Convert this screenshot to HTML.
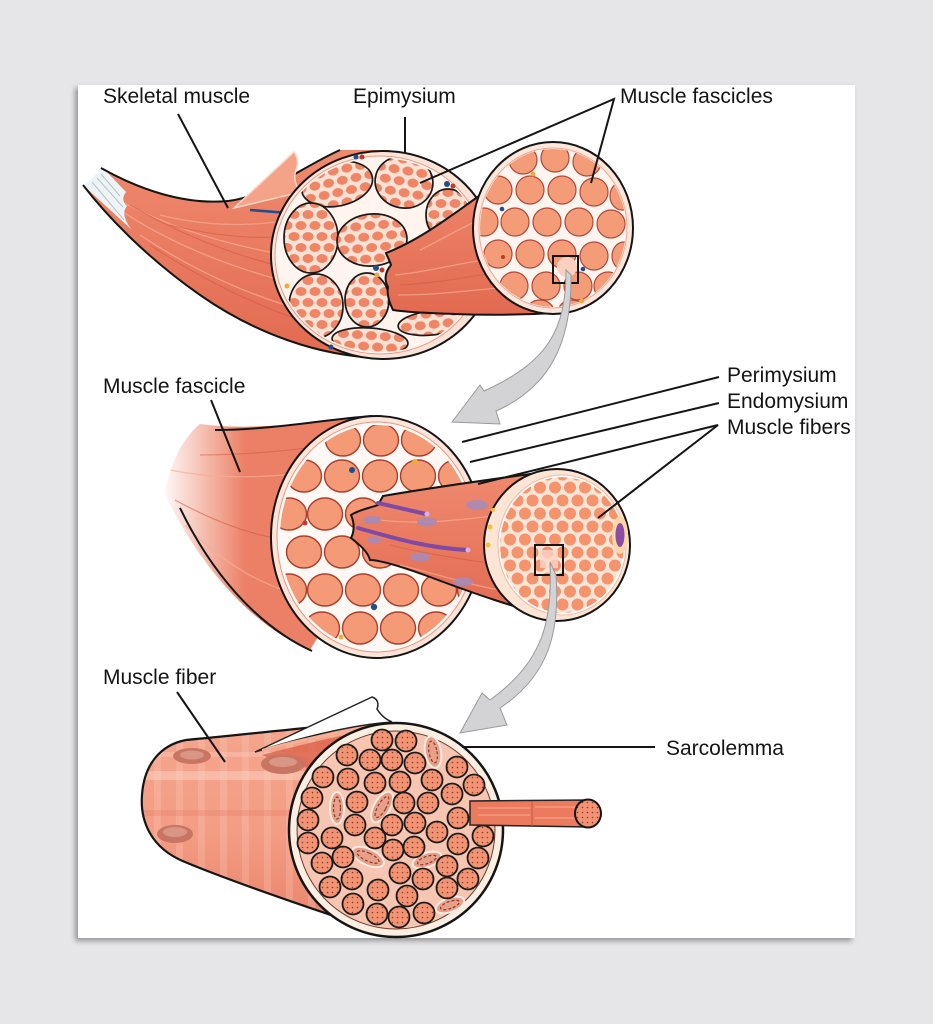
<!DOCTYPE html>
<html><head><meta charset="utf-8"><style>
html,body{margin:0;padding:0;width:933px;height:1024px;background:#e6e6e8;overflow:hidden}
.panel{position:absolute;left:78px;top:85px;width:777px;height:853px;background:#fff;box-shadow:-3px 3px 5px rgba(0,0,0,.35)}
svg{position:absolute;left:0;top:0}
text{font-family:"Liberation Sans",Arial,sans-serif;font-size:21px;fill:#141414}
.ln{stroke:#151515;stroke-width:2;fill:none}
.fb{fill:#f49c78;stroke:#b04838;stroke-width:1.2}
.ff{fill:#f49a76;stroke:#a8402f;stroke-width:1.4}
.mf{fill:url(#mdots);stroke:#1c1c1c;stroke-width:1.8}
.bl{fill:url(#ovals);stroke:#1a1a1a;stroke-width:1.7}
.mi{fill:#e8a08a;stroke:#fdebe2;stroke-width:2}
.mi2{fill:none;stroke:#8d3b2c;stroke-width:1.2;stroke-dasharray:3 2}
.st{fill:none;stroke:#f7ad96;stroke-width:1.3;opacity:.7}
.sd{fill:none;stroke:#d25a42;stroke-width:1.1;opacity:.6}
</style></head><body>
<div class="panel"></div>
<svg width="933" height="1024" viewBox="0 0 933 1024">
<defs>
 <pattern id="ovals" width="14" height="22" patternUnits="userSpaceOnUse">
  <rect width="14" height="22" fill="#fbe2d5"/>
  <ellipse cx="7" cy="5.5" rx="5.5" ry="4.5" fill="#f08566"/>
  <ellipse cx="0" cy="16.5" rx="5.5" ry="4.5" fill="#f08566"/>
  <ellipse cx="14" cy="16.5" rx="5.5" ry="4.5" fill="#f08566"/>
 </pattern>
 <pattern id="bdots" width="15" height="26" patternUnits="userSpaceOnUse">
  <rect width="15" height="26" fill="#fde6d8"/>
  <circle cx="7.5" cy="6.5" r="6" fill="#f5936d"/>
  <circle cx="0" cy="19.5" r="6" fill="#f5936d"/>
  <circle cx="15" cy="19.5" r="6" fill="#f5936d"/>
 </pattern>
 <pattern id="mdots" width="5" height="5" patternUnits="userSpaceOnUse">
  <rect width="5" height="5" fill="#f29373"/>
  <circle cx="2.5" cy="2.5" r="0.8" fill="#8b3a2c"/>
 </pattern>
 <pattern id="vstripe" width="22" height="10" patternUnits="userSpaceOnUse">
  <rect width="22" height="10" fill="none"/>
  <rect x="0" width="7" height="10" fill="#ffd6c8" opacity=".22"/>
 </pattern>
 <linearGradient id="mus" x1="0" y1="0" x2="0" y2="1">
  <stop offset="0" stop-color="#ef8a6f"/><stop offset="1" stop-color="#e26a50"/>
 </linearGradient>
 <linearGradient id="fade" gradientUnits="userSpaceOnUse" x1="160" y1="0" x2="245" y2="0">
  <stop offset="0" stop-color="#ec8066" stop-opacity="0"/><stop offset="1" stop-color="#ec8066" stop-opacity="1"/>
 </linearGradient>
 <linearGradient id="fib" x1="0" y1="0" x2="0" y2="1">
  <stop offset="0" stop-color="#f4a58d"/><stop offset=".5" stop-color="#f39d84"/><stop offset="1" stop-color="#e88067"/>
 </linearGradient>
 <clipPath id="cTopX"><ellipse cx="380" cy="255" rx="103" ry="97"/></clipPath>
 <clipPath id="cTopF"><ellipse cx="553" cy="228" rx="73" ry="79"/></clipPath>
 <clipPath id="cMid"><ellipse cx="377" cy="537" rx="97" ry="112"/></clipPath>
 <clipPath id="cBun"><ellipse cx="562" cy="545" rx="62" ry="68"/></clipPath>
 <clipPath id="cTopBody"><path d="M103,170 C140,190 185,205 228,201 C265,197 300,168 340,150 L390,150 L395,358 C330,362 250,330 200,295 C150,260 110,220 84,186 Z"/></clipPath>
 <clipPath id="cMidBody"><path d="M200,424 C260,432 320,420 372,416 L380,537 L310,650 C250,625 200,565 165,495 C168,470 180,440 200,424 Z"/></clipPath>
 <clipPath id="cBot"><path d="M186,740 C240,735 300,728 370,724 L400,830 L397,937 C330,915 240,885 185,862 C150,848 140,820 142,795 C144,765 160,745 186,740 Z"/></clipPath>
</defs>

<!-- ============ TOP: skeletal muscle ============ -->
<path d="M103,170 C140,190 185,205 228,201 C265,197 300,168 340,150 L390,150 L395,358 C330,362 250,330 200,295 C150,260 110,220 84,186 Z" fill="url(#mus)"/>
<g clip-path="url(#cTopBody)">
 <path class="st" d="M110,195 C170,230 240,250 330,262"/>
 <path class="st" d="M120,210 C180,250 250,275 330,292"/>
 <path class="st" d="M140,235 C200,275 260,300 330,318"/>
 <path class="sd" d="M130,205 C190,240 250,262 330,278"/>
 <path class="sd" d="M150,245 C210,285 270,312 330,330"/>
 <path class="st" d="M160,215 C220,230 270,225 320,215"/>
 <path class="sd" d="M170,225 C230,240 280,240 320,232"/>
</g>
<!-- tendon -->
<path d="M103,168 L126,192 Q120,200 127,206 Q120,214 131,229 L84,186 Z" fill="#eef3f6"/>
<path d="M92,182 L124,220 M97,178 L123,207 M101,174 L120,196" stroke="#b8c4cc" stroke-width="1" fill="none"/>
<path class="ln" d="M101,168 C140,190 185,205 228,201 C265,197 300,168 340,150"/>
<path class="ln" d="M83,185 C110,220 150,260 200,295 C250,330 320,360 395,358"/>
<!-- flap -->
<path d="M234,208 L294,152 Q300,160 296,170 Q292,182 301,192 Z" fill="#f4a389" stroke="#fbd8cb" stroke-width="1.5"/>
<path d="M250,210 L301,214" stroke="#1f4e8c" stroke-width="2.5"/>
<rect x="286" y="208" width="9" height="6" fill="#f2c23a"/><circle cx="298" cy="209" r="3.5" fill="#1f4e8c"/>

<!-- big cross-section -->
<ellipse cx="383" cy="255" rx="112" ry="104" fill="#fbe3d8" stroke="#151515" stroke-width="2"/>
<ellipse cx="380" cy="255" rx="105" ry="99" fill="#fff4ee" stroke="#e89a86" stroke-width="1"/>
<g clip-path="url(#cTopX)">
 <ellipse class="bl" cx="337" cy="184" rx="36" ry="22" transform="rotate(-12 337 184)"/>
 <ellipse class="bl" cx="404" cy="182" rx="29" ry="26" transform="rotate(10 404 182)"/>
 <ellipse class="bl" cx="448" cy="215" rx="22" ry="26"/>
 <ellipse class="bl" cx="311" cy="238" rx="27" ry="35"/>
 <ellipse class="bl" cx="372" cy="240" rx="35" ry="26" transform="rotate(-5 372 240)"/>
 <ellipse class="bl" cx="316" cy="306" rx="27" ry="32"/>
 <ellipse class="bl" cx="367" cy="300" rx="22" ry="27"/>
 <ellipse class="bl" cx="370" cy="341" rx="38" ry="13" transform="rotate(4 370 341)"/>
 <ellipse class="bl" cx="432" cy="323" rx="34" ry="12" transform="rotate(-6 432 323)"/>
 <ellipse class="bl" cx="470" cy="300" rx="14" ry="15"/>
</g>
<circle cx="356" cy="157" r="2.5" fill="#1f4e8c"/><circle cx="362" cy="157" r="2.5" fill="#c0392b"/>
<circle cx="447" cy="184" r="3" fill="#1f4e8c"/><circle cx="453" cy="186" r="2.5" fill="#c0392b"/>
<circle cx="376" cy="268" r="3" fill="#1f4e8c"/><circle cx="382" cy="270" r="2.5" fill="#c0392b"/><circle cx="377" cy="275" r="2.5" fill="#f2a93a"/>
<circle cx="287" cy="286" r="2.5" fill="#f2a93a"/><circle cx="331" cy="347" r="2.5" fill="#1f4e8c"/>

<!-- fascicle body -->
<path d="M386,253 C420,240 452,215 479,196 L556,160 L556,313 C520,315 480,315 455,314 C425,313 405,312 393,310 C388,300 387,292 388,287 C384,280 385,272 391,265 C389,259 387,256 386,253 Z" fill="url(#mus)" stroke="#151515" stroke-width="2"/>
<path class="st" d="M395,275 C430,272 460,262 500,258"/>
<path class="st" d="M398,295 C440,295 470,290 500,288"/>
<path class="sd" d="M400,285 C440,283 470,276 500,272"/>
<path class="st" d="M420,250 C445,238 465,225 490,215"/>

<!-- fascicle cross-section -->
<ellipse cx="553" cy="228" rx="80" ry="86" fill="#fde6dc" stroke="#151515" stroke-width="2"/>
<ellipse cx="553" cy="228" rx="74" ry="80" fill="#fff5f0" stroke="#eaa893" stroke-width="1"/>
<g clip-path="url(#cTopF)">
 <ellipse class="fb" cx="523" cy="160" rx="14" ry="14"/><ellipse class="fb" cx="555" cy="158" rx="14" ry="14"/><ellipse class="fb" cx="587" cy="162" rx="14" ry="14"/>
 <ellipse class="fb" cx="498" cy="190" rx="14" ry="14"/><ellipse class="fb" cx="530" cy="190" rx="14" ry="14"/><ellipse class="fb" cx="562" cy="190" rx="14" ry="14"/><ellipse class="fb" cx="594" cy="192" rx="14" ry="14"/><ellipse class="fb" cx="622" cy="196" rx="12" ry="14"/>
 <ellipse class="fb" cx="484" cy="222" rx="14" ry="14"/><ellipse class="fb" cx="515" cy="222" rx="14" ry="14"/><ellipse class="fb" cx="547" cy="222" rx="14" ry="14"/><ellipse class="fb" cx="579" cy="222" rx="14" ry="14"/><ellipse class="fb" cx="611" cy="224" rx="14" ry="14"/>
 <ellipse class="fb" cx="498" cy="254" rx="14" ry="14"/><ellipse class="fb" cx="530" cy="254" rx="14" ry="14"/><ellipse class="fb" cx="562" cy="254" rx="14" ry="14"/><ellipse class="fb" cx="594" cy="256" rx="14" ry="14"/><ellipse class="fb" cx="624" cy="256" rx="12" ry="14"/>
 <ellipse class="fb" cx="514" cy="286" rx="14" ry="14"/><ellipse class="fb" cx="546" cy="286" rx="14" ry="14"/><ellipse class="fb" cx="578" cy="286" rx="14" ry="14"/><ellipse class="fb" cx="608" cy="286" rx="14" ry="14"/>
 <ellipse class="fb" cx="540" cy="312" rx="14" ry="12"/><ellipse class="fb" cx="572" cy="312" rx="14" ry="12"/>
</g>
<circle cx="533" cy="174" r="2.5" fill="#f2a93a"/><circle cx="502" cy="209" r="2.3" fill="#1f4e8c"/><circle cx="503" cy="257" r="2" fill="#c0392b"/><circle cx="583" cy="269" r="2.3" fill="#1f4e8c"/><circle cx="582" cy="301" r="2.3" fill="#f2a93a"/>
<circle cx="567" cy="267" r="10" fill="#fbd0c0"/>
<rect x="553" y="256" width="25" height="27" fill="none" stroke="#151515" stroke-width="2"/>

<!-- top arrow -->
<path d="M566,270 C566,330 548,362 484,391 L480,385 L452,422 L500,424 L496,411 C548,388 572,345 571,275 Z" fill="#d3d3d5" stroke="#9a9a9c" stroke-width="1"/>

<!-- ============ MIDDLE: fascicle ============ -->
<path d="M200,424 C260,432 320,420 372,416 L380,537 L310,650 C250,625 200,565 165,495 C168,470 180,440 200,424 Z" fill="url(#fade)"/>
<g clip-path="url(#cMidBody)">
 <path class="st" d="M170,470 C220,480 270,478 330,470"/>
 <path class="sd" d="M175,500 C230,530 270,540 320,545"/>
 <path class="st" d="M185,525 C230,570 270,590 320,600"/>
 <path class="sd" d="M200,455 C240,455 280,452 330,445"/>
</g>
<path class="ln" d="M215,430 C270,430 320,420 372,416"/>
<path class="ln" d="M180,508 C210,570 255,625 312,651"/>

<ellipse cx="377" cy="537" rx="106" ry="121" fill="#fce4d8" stroke="#151515" stroke-width="2"/>
<ellipse cx="377" cy="537" rx="100" ry="115" fill="#fff8f4" stroke="#e39a85" stroke-width="1"/>
<g clip-path="url(#cMid)">
 <ellipse class="ff" cx="343" cy="440" rx="17.5" ry="16"/><ellipse class="ff" cx="381" cy="440" rx="17.5" ry="16"/><ellipse class="ff" cx="419" cy="440" rx="17.5" ry="16"/>
 <ellipse class="ff" cx="304" cy="476" rx="17.5" ry="16"/><ellipse class="ff" cx="342" cy="476" rx="17.5" ry="16"/><ellipse class="ff" cx="380" cy="476" rx="17.5" ry="16"/><ellipse class="ff" cx="418" cy="476" rx="17.5" ry="16"/><ellipse class="ff" cx="456" cy="476" rx="17.5" ry="16"/>
 <ellipse class="ff" cx="289" cy="514" rx="17.5" ry="16"/><ellipse class="ff" cx="325" cy="514" rx="17.5" ry="16"/><ellipse class="ff" cx="363" cy="514" rx="17.5" ry="16"/><ellipse class="ff" cx="401" cy="514" rx="17.5" ry="16"/><ellipse class="ff" cx="439" cy="514" rx="17.5" ry="16"/><ellipse class="ff" cx="475" cy="514" rx="17.5" ry="16"/>
 <ellipse class="ff" cx="304" cy="552" rx="17.5" ry="16"/><ellipse class="ff" cx="342" cy="552" rx="17.5" ry="16"/><ellipse class="ff" cx="380" cy="552" rx="17.5" ry="16"/><ellipse class="ff" cx="418" cy="552" rx="17.5" ry="16"/><ellipse class="ff" cx="456" cy="552" rx="17.5" ry="16"/>
 <ellipse class="ff" cx="289" cy="590" rx="17.5" ry="16"/><ellipse class="ff" cx="325" cy="590" rx="17.5" ry="16"/><ellipse class="ff" cx="363" cy="590" rx="17.5" ry="16"/><ellipse class="ff" cx="401" cy="590" rx="17.5" ry="16"/><ellipse class="ff" cx="439" cy="590" rx="17.5" ry="16"/><ellipse class="ff" cx="475" cy="590" rx="17.5" ry="16"/>
 <ellipse class="ff" cx="322" cy="628" rx="17.5" ry="16"/><ellipse class="ff" cx="360" cy="628" rx="17.5" ry="16"/><ellipse class="ff" cx="398" cy="628" rx="17.5" ry="16"/><ellipse class="ff" cx="436" cy="628" rx="17.5" ry="16"/>
</g>
<circle cx="352" cy="470" r="3" fill="#1f4e8c"/><circle cx="415" cy="462" r="3" fill="#f2a93a"/><circle cx="305" cy="523" r="2.5" fill="#c0392b"/><circle cx="374" cy="607" r="3.2" fill="#1f4e8c"/><circle cx="341" cy="637" r="2.5" fill="#f2a93a"/>

<!-- fiber bundle body -->
<path d="M383,496 C430,488 500,478 560,470 L560,618 C520,610 470,592 430,577 C400,566 380,560 370,560 C368,552 360,545 351,538 C355,530 354,522 351,515 C358,510 370,508 378,505 Z" fill="url(#mus)" stroke="#151515" stroke-width="2"/>
<path class="st" d="M380,520 C420,525 460,520 500,515"/>
<path class="sd" d="M390,545 C430,555 470,560 500,565"/>
<path class="st" d="M400,565 C440,575 470,585 500,590"/>
<line x1="378" y1="503" x2="426" y2="514" stroke="#7e4aa6" stroke-width="4" stroke-linecap="round"/>
<circle cx="427" cy="514" r="2.5" fill="#d6b2e6"/>
<path d="M358,528 C400,540 430,548 467,550" stroke="#7e4aa6" stroke-width="4" fill="none" stroke-linecap="round"/>
<circle cx="468" cy="550" r="2.5" fill="#d6b2e6"/>
<g fill="#a48bbd" opacity=".85">
 <ellipse cx="477" cy="505" rx="11" ry="5"/><ellipse cx="427" cy="522" rx="10" ry="4.5"/><ellipse cx="372" cy="520" rx="9" ry="4"/><ellipse cx="420" cy="557" rx="10" ry="4.5"/><ellipse cx="463" cy="582" rx="10" ry="4.5"/><ellipse cx="374" cy="540" rx="7" ry="3.5"/>
</g>

<!-- bundle cross-section -->
<ellipse cx="557" cy="545" rx="73" ry="76" fill="#fde5d5" stroke="#151515" stroke-width="2"/>
<ellipse cx="562" cy="545" rx="64" ry="70" fill="#fff" stroke="#f0b9a4" stroke-width="1"/>
<ellipse cx="562" cy="545" rx="62" ry="68" fill="url(#bdots)" clip-path="url(#cBun)"/>
<ellipse cx="620" cy="535" rx="8" ry="19" fill="#fbd7a8"/>
<ellipse cx="620" cy="535" rx="4.5" ry="12" fill="#8b4ea6"/>
<circle cx="490" cy="527" r="2.5" fill="#f2c23a"/><circle cx="488" cy="545" r="2.5" fill="#f2c23a"/><circle cx="493" cy="510" r="2" fill="#f2c23a"/>
<rect x="540" y="550" width="18" height="18" fill="#fbd6c6" opacity=".8"/>
<rect x="535" y="545" width="28" height="30" fill="none" stroke="#151515" stroke-width="2"/>

<!-- bottom arrow -->
<path d="M550,562 C552,620 545,660 490,700 L482,693 L460,733 L507,725 L500,708 C550,675 560,630 556,575 Z" fill="#d3d3d5" stroke="#9a9a9c" stroke-width="1"/>

<!-- ============ BOTTOM: muscle fiber ============ -->
<path d="M186,740 C240,735 300,728 370,724 L400,830 L397,937 C330,915 240,885 185,862 C150,848 140,820 142,795 C144,765 160,745 186,740 Z" fill="url(#fib)"/>
<g clip-path="url(#cBot)">
 <rect x="130" y="700" width="280" height="250" fill="url(#vstripe)"/>
 <rect x="130" y="771" width="280" height="9" fill="#fcd0c0" opacity=".55"/>
 <rect x="130" y="752" width="280" height="5" fill="#fcd0c0" opacity=".35"/>
 <rect x="130" y="810" width="280" height="6" fill="#e77f66" opacity=".3"/>
 <path d="M262,755 C300,745 350,733 392,726 L340,770 C310,770 280,764 262,755 Z" fill="#dc6149" opacity=".8"/>
</g>
<path d="M186,740 C240,735 300,728 370,722 M397,937 C330,915 240,885 185,862 C150,848 140,820 142,795 C144,765 160,745 186,740" fill="none" stroke="#151515" stroke-width="2.2"/>
<ellipse cx="192" cy="756" rx="19" ry="8" fill="#c97563"/><ellipse cx="192" cy="755" rx="12" ry="4.5" fill="#da9684"/>
<ellipse cx="283" cy="764" rx="22" ry="10" fill="#c97563"/><ellipse cx="283" cy="762" rx="14" ry="5" fill="#da9684"/>
<ellipse cx="175" cy="834" rx="18" ry="9" fill="#c97563"/><ellipse cx="175" cy="832" rx="12" ry="5" fill="#da9684"/>
<!-- flap -->
<path d="M255,752 L372,697 C378,699 379,704 377,709 C380,714 385,719 392,722 C350,725 300,738 255,752 Z" fill="#fff" stroke="#222" stroke-width="1.5"/>
<path d="M262,749 C300,738 350,728 390,724 L386,729 C340,733 300,742 262,751 Z" fill="#f5b094"/>

<!-- cross-section -->
<circle cx="396" cy="830" r="107" fill="#fcefe2" stroke="#151515" stroke-width="2.5"/>
<circle cx="396" cy="830" r="99" fill="#f7c6b2" stroke="#6b3a2e" stroke-width="1"/>
<g>
 <g transform="rotate(-10 433 752)"><ellipse class="mi" cx="433" cy="752" rx="8" ry="16"/><ellipse class="mi2" cx="433" cy="752" rx="4" ry="11"/></g>
 <g><ellipse class="mi" cx="337" cy="808" rx="7" ry="16"/><ellipse class="mi2" cx="337" cy="808" rx="3.5" ry="11"/></g>
 <g transform="rotate(30 382 807)"><ellipse class="mi" cx="382" cy="807" rx="8" ry="17"/><ellipse class="mi2" cx="382" cy="807" rx="4" ry="12"/></g>
 <g transform="rotate(-65 368 857)"><ellipse class="mi" cx="368" cy="857" rx="8" ry="17"/><ellipse class="mi2" cx="368" cy="857" rx="4" ry="12"/></g>
 <g transform="rotate(70 427 860)"><ellipse class="mi" cx="427" cy="860" rx="7" ry="15"/><ellipse class="mi2" cx="427" cy="860" rx="3.5" ry="10"/></g>
 <g transform="rotate(70 450 905)"><ellipse class="mi" cx="450" cy="905" rx="7" ry="15"/><ellipse class="mi2" cx="450" cy="905" rx="3.5" ry="10"/></g>
</g>
<g>
 <circle class="mf" cx="382" cy="740" r="10.5"/><circle class="mf" cx="406" cy="741" r="10.5"/>
 <circle class="mf" cx="347" cy="755" r="10.5"/><circle class="mf" cx="370" cy="760" r="10.5"/><circle class="mf" cx="392" cy="760" r="10.5"/><circle class="mf" cx="415" cy="763" r="10.5"/><circle class="mf" cx="457" cy="767" r="10.5"/>
 <circle class="mf" cx="323" cy="777" r="10.5"/><circle class="mf" cx="348" cy="779" r="10.5"/><circle class="mf" cx="375" cy="783" r="10.5"/><circle class="mf" cx="400" cy="782" r="10.5"/><circle class="mf" cx="432" cy="780" r="10.5"/><circle class="mf" cx="452" cy="794" r="10.5"/><circle class="mf" cx="474" cy="785" r="10.5"/>
 <circle class="mf" cx="312" cy="798" r="10.5"/><circle class="mf" cx="357" cy="802" r="10.5"/><circle class="mf" cx="404" cy="803" r="10.5"/><circle class="mf" cx="428" cy="803" r="10.5"/>
 <circle class="mf" cx="308" cy="820" r="10.5"/><circle class="mf" cx="355" cy="825" r="10.5"/><circle class="mf" cx="392" cy="825" r="10.5"/><circle class="mf" cx="415" cy="823" r="10.5"/><circle class="mf" cx="437" cy="832" r="10.5"/><circle class="mf" cx="458" cy="818" r="10.5"/><circle class="mf" cx="483" cy="836" r="10.5"/>
 <circle class="mf" cx="308" cy="843" r="10.5"/><circle class="mf" cx="332" cy="838" r="10.5"/><circle class="mf" cx="375" cy="838" r="10.5"/><circle class="mf" cx="393" cy="850" r="10.5"/><circle class="mf" cx="414" cy="847" r="10.5"/><circle class="mf" cx="458" cy="844" r="10.5"/>
 <circle class="mf" cx="322" cy="863" r="10.5"/><circle class="mf" cx="343" cy="857" r="10.5"/><circle class="mf" cx="447" cy="866" r="10.5"/><circle class="mf" cx="478" cy="858" r="10.5"/>
 <circle class="mf" cx="352" cy="879" r="10.5"/><circle class="mf" cx="400" cy="873" r="10.5"/><circle class="mf" cx="423" cy="879" r="10.5"/><circle class="mf" cx="468" cy="879" r="10.5"/>
 <circle class="mf" cx="330" cy="887" r="10.5"/><circle class="mf" cx="378" cy="890" r="10.5"/><circle class="mf" cx="407" cy="896" r="10.5"/><circle class="mf" cx="447" cy="888" r="10.5"/>
 <circle class="mf" cx="353" cy="904" r="10.5"/><circle class="mf" cx="377" cy="914" r="10.5"/><circle class="mf" cx="399" cy="917" r="10.5"/><circle class="mf" cx="424" cy="913" r="10.5"/>
</g>
<!-- myofibril rod -->
<path d="M470,801 L588,800 L588,827 L470,825 Z" fill="#eb7b5c" stroke="#222" stroke-width="1.5"/>
<path d="M478,808 L530,808 M478,815 L530,815 M535,807 L580,807 M535,818 L580,818" stroke="#f5a088" stroke-width="1.2"/>
<line x1="532" y1="801" x2="532" y2="826" stroke="#c85a40" stroke-width="1"/>
<ellipse cx="588" cy="813.5" rx="13" ry="14" fill="url(#mdots)" stroke="#151515" stroke-width="2"/>

<!-- ============ leader lines ============ -->
<line class="ln" x1="178" y1="114" x2="228" y2="208"/>
<line class="ln" x1="405" y1="117" x2="405" y2="153"/>
<polyline class="ln" points="420,183 614,99 591,183"/>
<line class="ln" x1="719" y1="377" x2="462" y2="442"/>
<line class="ln" x1="719" y1="403" x2="470" y2="462"/>
<polyline class="ln" points="478,484 718,425 598,518"/>
<line class="ln" x1="211" y1="400" x2="240" y2="472"/>
<line class="ln" x1="177" y1="692" x2="225" y2="762"/>
<line class="ln" x1="462" y1="747" x2="655" y2="747"/>

<!-- ============ labels ============ -->
<text x="103" y="103">Skeletal muscle</text>
<text x="353" y="103">Epimysium</text>
<text x="620" y="103">Muscle fascicles</text>
<text x="727" y="382">Perimysium</text>
<text x="727" y="408">Endomysium</text>
<text x="727" y="434">Muscle fibers</text>
<text x="103" y="393">Muscle fascicle</text>
<text x="103" y="684">Muscle fiber</text>
<text x="666" y="755">Sarcolemma</text>
</svg>
</body></html>
